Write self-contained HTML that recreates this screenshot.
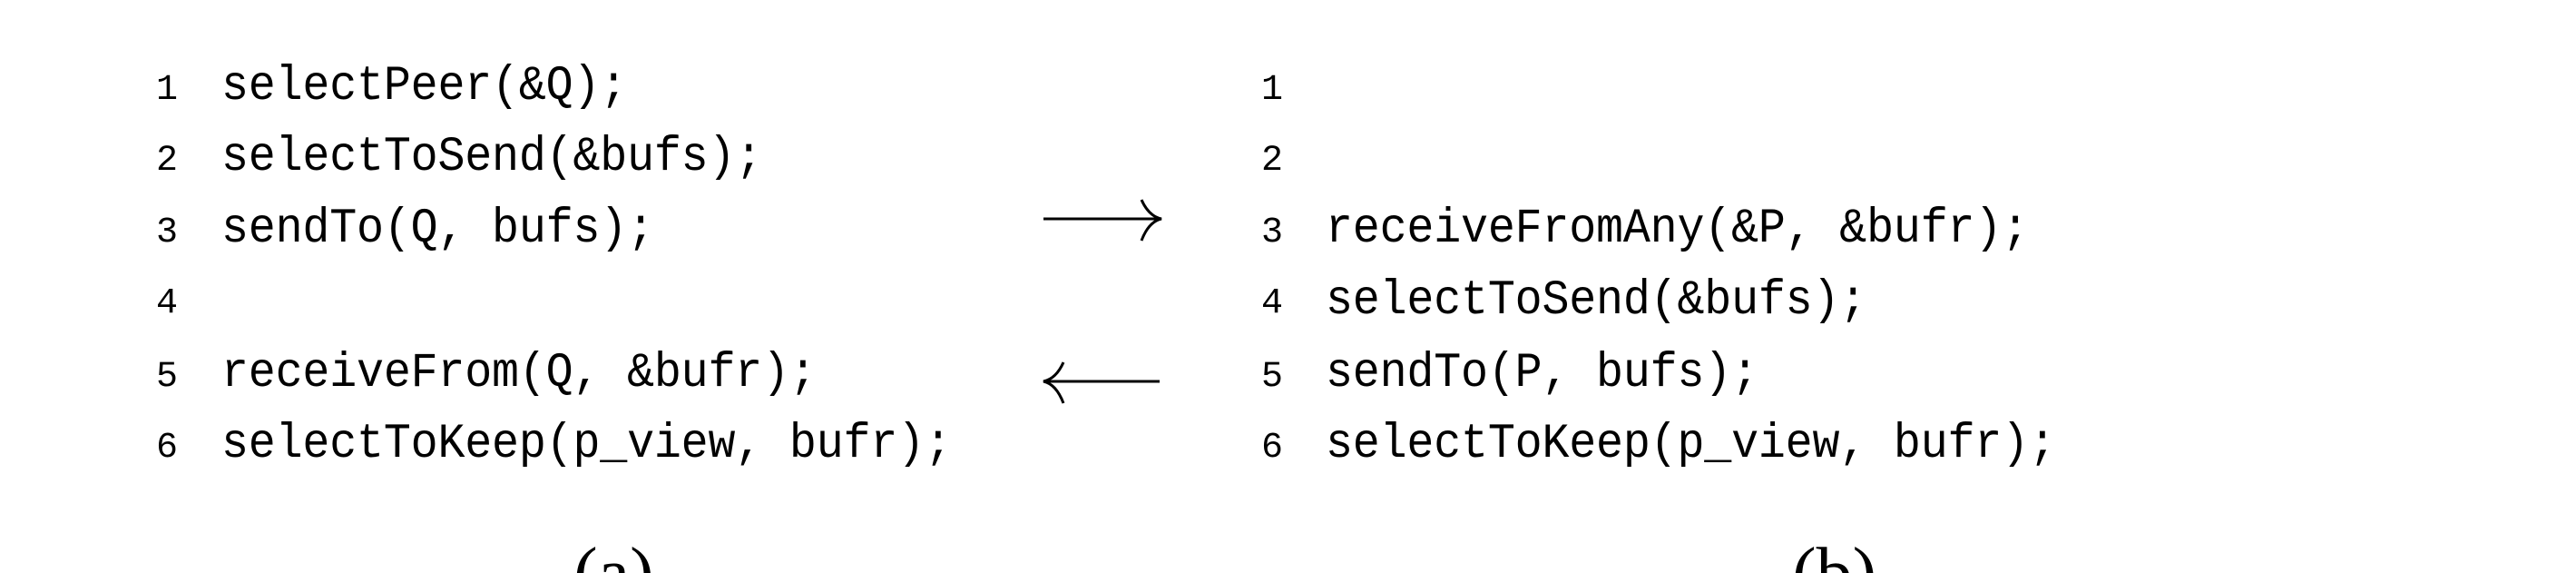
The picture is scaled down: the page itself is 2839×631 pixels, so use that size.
<!DOCTYPE html>
<html style="width:2839px;height:631px;overflow:hidden;"><head><meta charset="utf-8"><style>
html,body{margin:0;padding:0;background:#fff;}
body{width:2839px;height:631px;position:relative;overflow:hidden;}
.c{position:absolute;font-family:"Liberation Mono",monospace;font-size:50px;letter-spacing:-0.2px;color:#000;white-space:pre;line-height:1;transform:scaleY(1.08);transform-origin:0 100%;}
.n{position:absolute;font-family:"Liberation Mono",monospace;font-size:40px;color:#000;line-height:1;}
.capbox{position:absolute;top:592px;height:39px;width:120px;overflow:hidden;}
.cap{font-family:"Liberation Serif",serif;font-size:80px;color:#000;line-height:1;}
</style></head><body>
<div class="n" style="left:172px;top:80px">1</div>
<div class="n" style="left:172px;top:158px">2</div>
<div class="n" style="left:172px;top:237px">3</div>
<div class="n" style="left:172px;top:315px">4</div>
<div class="n" style="left:172px;top:396px">5</div>
<div class="n" style="left:172px;top:474px">6</div>
<div class="c" style="left:244px;top:73px">selectPeer(&amp;Q);</div>
<div class="c" style="left:244px;top:151px">selectToSend(&amp;bufs);</div>
<div class="c" style="left:244px;top:230px">sendTo(Q, bufs);</div>
<div class="c" style="left:244px;top:389px">receiveFrom(Q, &amp;bufr);</div>
<div class="c" style="left:244px;top:467px">selectToKeep(p_view, bufr);</div>

<div class="n" style="left:1390px;top:80px">1</div>
<div class="n" style="left:1390px;top:158px">2</div>
<div class="n" style="left:1390px;top:237px">3</div>
<div class="n" style="left:1390px;top:315px">4</div>
<div class="n" style="left:1390px;top:396px">5</div>
<div class="n" style="left:1390px;top:474px">6</div>
<div class="c" style="left:1461px;top:230px">receiveFromAny(&amp;P, &amp;bufr);</div>
<div class="c" style="left:1461px;top:309px">selectToSend(&amp;bufs);</div>
<div class="c" style="left:1461px;top:389px">sendTo(P, bufs);</div>
<div class="c" style="left:1461px;top:467px">selectToKeep(p_view, bufr);</div>

<svg width="2839" height="631" style="position:absolute;left:0;top:0" fill="none" stroke="#000" stroke-width="3">
<line x1="1150" y1="241" x2="1278" y2="241"/>
<path d="M1258 220 Q1266 238 1280 241 Q1266 244 1258 265"/>
<line x1="1152" y1="420" x2="1278" y2="420"/>
<path d="M1172 399 Q1164 417 1150 420 Q1164 423 1172 444"/>
</svg>

<div class="capbox" style="left:632px"><div class="cap">(a)</div></div>
<div class="capbox" style="left:1975px"><div class="cap">(b)</div></div>
</body></html>
